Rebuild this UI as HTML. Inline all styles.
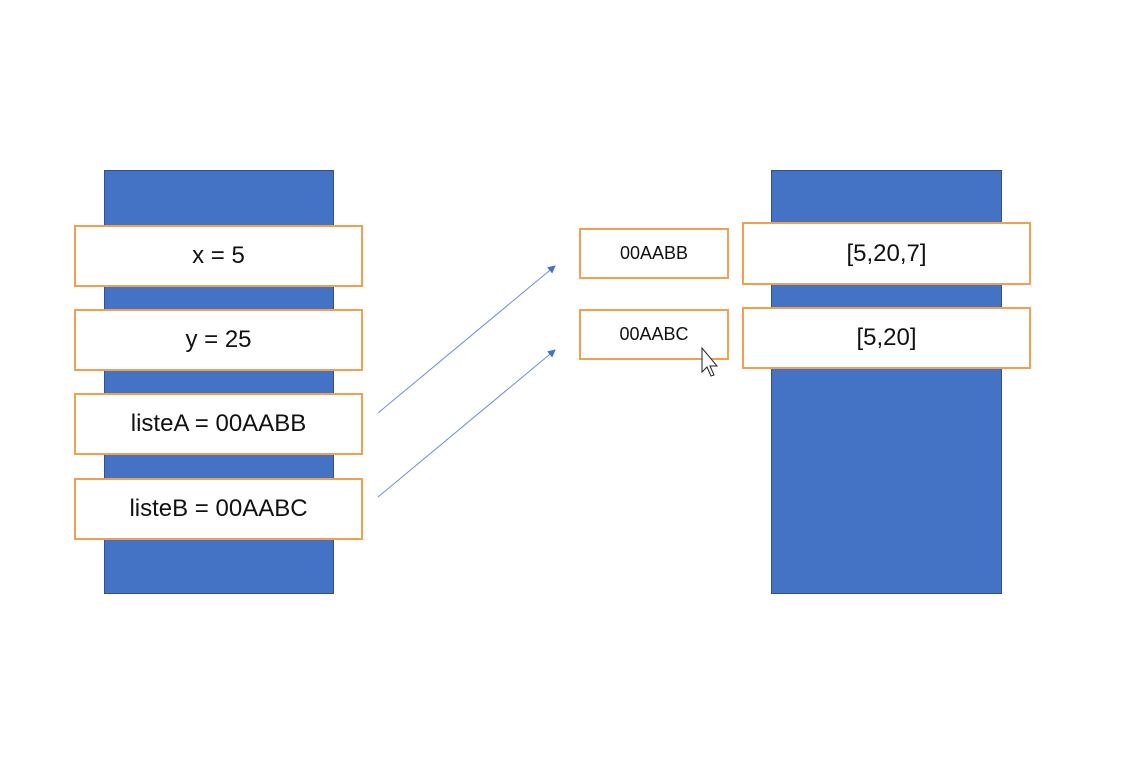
<!DOCTYPE html>
<html><head><meta charset="utf-8"><style>
body{margin:0;width:1125px;height:766px;background:#fff;position:relative;overflow:hidden;font-family:"Liberation Sans",sans-serif}
.col{position:absolute;background:#4472C4;border:1px solid #2F528F;box-sizing:border-box}
.box{position:absolute;background:#fff;border:2px solid #F0A050;box-sizing:border-box;display:flex;align-items:center;justify-content:center;color:#111;font-size:24px}
.sm{font-size:18px}
</style></head><body>
<div class="col" style="left:104px;top:170px;width:230px;height:424px"></div>
<div class="box" style="left:74px;top:225px;width:289px;height:62px">x = 5</div>
<div class="box" style="left:74px;top:309px;width:289px;height:62px">y = 25</div>
<div class="box" style="left:74px;top:393px;width:289px;height:62px">listeA = 00AABB</div>
<div class="box" style="left:74px;top:478px;width:289px;height:62px">listeB = 00AABC</div>
<div class="col" style="left:771px;top:170px;width:231px;height:424px"></div>
<div class="box sm" style="left:579px;top:228px;width:150px;height:51px">00AABB</div>
<div class="box sm" style="left:579px;top:309px;width:150px;height:51px">00AABC</div>
<div class="box" style="left:742px;top:222px;width:289px;height:63px">[5,20,7]</div>
<div class="box" style="left:742px;top:307px;width:289px;height:62px">[5,20]</div>
<svg width="1125" height="766" style="position:absolute;left:0;top:0">
<defs><marker id="ah" markerWidth="8" markerHeight="8" refX="7" refY="4" orient="auto" markerUnits="userSpaceOnUse"><path d="M0,0 L8,4 L0,8 z" fill="#4472C4"/></marker></defs>
<line x1="378" y1="413" x2="555" y2="266" stroke="#6A8FCF" stroke-width="1" marker-end="url(#ah)"/>
<line x1="378" y1="497" x2="555" y2="350" stroke="#6A8FCF" stroke-width="1" marker-end="url(#ah)"/>
<path d="M702,348 L702,372 L707,367 L711,376 L714,375 L710,366 L717,366 Z" fill="#fff" stroke="#222" stroke-width="1"/>
</svg>
</body></html>
